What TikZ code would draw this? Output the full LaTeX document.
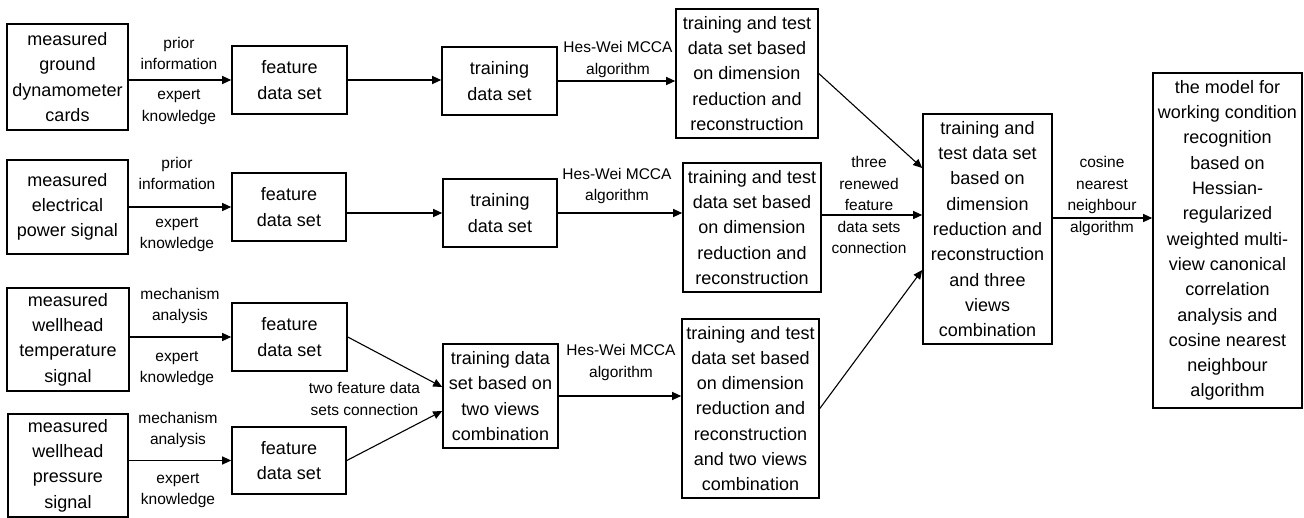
\documentclass[tikz,border=0pt]{standalone}
\usepackage{fontspec}
\setmainfont{Liberation Sans}
\usetikzlibrary{arrows.meta,positioning}
\tikzset{
  box/.style={draw, line width=1.6pt, inner sep=0pt, align=center,
    font=\fontsize{18}{25.3}\selectfont},
  lbl/.style={inner sep=0pt, align=center, font=\fontsize{15.5}{21.5}\selectfont},
  arr/.style={line width=1.1pt, -{Triangle[length=9pt,width=8pt]}},
}
\begin{document}
\begin{tikzpicture}[x=1pt,y=-1pt]
\useasboundingbox (0,0) rectangle (1304,517);

% source signals
\node[box, minimum width=121pt, minimum height=106pt] (A1) at (67.5,77) {measured\\ground\\dynamometer\\cards};
\node[box, minimum width=121pt, minimum height=94pt] (A2) at (67.5,207) {measured\\electrical\\power signal};
\node[box, minimum width=122pt, minimum height=103pt] (A3) at (68,339.5) {measured\\wellhead\\temperature\\signal};
\node[box, minimum width=120pt, minimum height=103pt] (A4) at (68,465.5) {measured\\wellhead\\pressure\\signal};

% feature sets
\node[box, minimum width=115pt, minimum height=68pt] (F1) at (289.5,80) {feature\\data set};
\node[box, minimum width=114pt, minimum height=68pt] (F2) at (289,207) {feature\\data set};
\node[box, minimum width=115pt, minimum height=68pt] (F3) at (289.5,337) {feature\\data set};
\node[box, minimum width=114pt, minimum height=67pt] (F4) at (289,460.5) {feature\\data set};

% training sets
\node[box, minimum width=115pt, minimum height=68pt] (T1) at (499.5,81) {training\\data set};
\node[box, minimum width=114pt, minimum height=68pt] (T2) at (500,213) {training\\data set};
\node[box, minimum width=115pt, minimum height=104pt] (T3) at (500.5,396) {training data\\set based on\\two views\\combination};

% reduced and reconstructed sets
\node[box, minimum width=142pt, minimum height=129pt] (R1) at (747,73.5) {training and test\\data set based\\on dimension\\reduction and\\reconstruction};
\node[box, minimum width=138pt, minimum height=129pt] (R2) at (752,227.5) {training and test\\data set based\\on dimension\\reduction and\\reconstruction};
\node[box, minimum width=137pt, minimum height=179pt] (R3) at (750.5,408.5) {training and test\\data set based\\on dimension\\reduction and\\reconstruction\\and two views\\combination};

% combined set and final model
\node[box, minimum width=129pt, minimum height=230pt] (B) at (987.5,229) {training and\\test data set\\based on\\dimension\\reduction and\\reconstruction\\and three\\views\\combination};
\node[box, minimum width=149pt, minimum height=335pt] (M) at (1227.5,240.5) {the model for\\working condition\\recognition\\based on\\Hessian-\\regularized\\weighted multi-\\view canonical\\correlation\\analysis and\\cosine nearest\\neighbour\\algorithm};

% connectors
\draw[arr] (A1.east |- F1.west) -- (F1.west);
\draw[arr] (A2.east) -- (F2.west);
\draw[arr] (A3.east |- F3.west) -- (F3.west);
\draw[arr] (A4.east |- F4.west) -- (F4.west);

\draw[arr] (F1.east) -- (T1.west |- F1.east);
\draw[arr] (F2.east |- T2.west) -- (T2.west);
\coordinate (T3a) at ([yshift=9pt]T3.west);
\coordinate (T3b) at ([yshift=-15pt]T3.west);
\draw[arr] (F3.east) -- (T3a);
\draw[arr] (F4.east) -- (T3b);

\draw[arr] (T1.east) -- (R1.west |- T1.east);
\draw[arr] (T2.east) -- (R2.west |- T2.east);
\draw[arr] (T3.east) -- (R3.west |- T3.east);

\coordinate (Ba) at ([yshift=61pt]B.west);
\coordinate (Bb) at ([yshift=14pt]B.west);
\coordinate (Bc) at ([yshift=-41pt]B.west);
\draw[arr] (R1.east) -- (Ba);
\draw[arr] (R2.east |- Bb) -- (Bb);
\draw[arr] (R3.east) -- (Bc);

\coordinate (Bo) at ([yshift=11pt]B.east);
\draw[arr] (Bo) -- (M.west |- Bo);

% connector labels
\node[lbl] (l1a) at (179,53.5) {prior\\information};
\node[lbl] (l1b) at (179,107) {expert\\knowledge};
\node[lbl] (l2a) at (177,173.5) {prior\\information};
\node[lbl] (l2b) at (177,234.5) {expert\\knowledge};
\node[lbl] (l3a) at (180,306) {mechanism\\analysis};
\node[lbl] (l3b) at (177,368.5) {expert\\knowledge};
\node[lbl] (l4a) at (178,430) {mechanism\\analysis};
\node[lbl] (l4b) at (178,490.5) {expert\\knowledge};
\node[lbl] (l5) at (364.5,399) {two feature data\\sets connection};
\node[lbl] (h1) at (618,59.5) {Hes-Wei MCCA\\algorithm};
\node[lbl] (h2) at (617,186) {Hes-Wei MCCA\\algorithm};
\node[lbl] (h3) at (621,362.5) {Hes-Wei MCCA\\algorithm};
\node[lbl] (l6) at (869,205) {three\\renewed\\feature\\data sets\\connection};
\node[lbl] (l7) at (1102,196) {cosine\\nearest\\neighbour\\algorithm};
\end{tikzpicture}
\end{document}
